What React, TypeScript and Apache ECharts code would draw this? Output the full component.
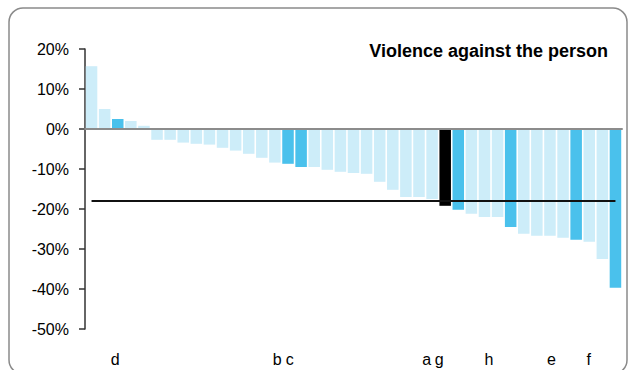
import React, { useEffect, useRef } from "react";
import * as echarts from "echarts";

const title = "Violence against the person";

const categories: string[] = [
  "", "", "d", "", "", "", "", "", "", "",
  "", "", "", "", "", "b", "c", "", "", "",
  "", "", "", "", "", "", "", "a", "g", "",
  "", "", "h", "", "", "", "", "e", "", "",
  "f",
];

const values: number[] = [
  15.7, 5.0, 2.5, 2.0, 0.8, -2.7, -2.7, -3.4, -3.7, -3.9,
  -4.7, -5.4, -6.2, -7.2, -8.4, -8.7, -9.5, -9.5, -10.2, -10.7,
  -11.0, -11.2, -13.2, -15.2, -17.0, -17.0, -17.5, -19.2, -20.2, -21.2,
  -22.0, -22.0, -24.5, -26.2, -26.7, -26.7, -27.2, -27.7, -28.2, -32.5,
  -39.7,
];

// which bars are highlighted
const highlighted: number[] = [2, 15, 16, 28, 32, 37, 40];
const focus: number[] = [27];

const referenceValue = -18;

const yTicks = { min: -50, max: 20, interval: 10 };

const LIGHT = "#CDEDF9";
const DARK = "#4AC1EC";
const BLACK = "#000000";
const FONT = "Liberation Sans, Arial, sans-serif";

export default function App() {
  const ref = useRef<HTMLDivElement>(null);

  useEffect(() => {
    if (!ref.current) return;
    const chart = echarts.init(ref.current, null, { renderer: "svg" });

    const barData = values.map((v, i) => ({
      value: v,
      itemStyle: {
        color: focus.includes(i) ? BLACK : highlighted.includes(i) ? DARK : LIGHT,
      },
    }));

    chart.setOption({
      animation: false,
      backgroundColor: "#ffffff",
      textStyle: { fontFamily: FONT },
      title: {
        text: title,
        right: 22,
        top: 42,
        padding: 0,
        textStyle: { fontFamily: FONT, fontSize: 18, fontWeight: "bold", color: "#000" },
      },
      graphic: [
        {
          type: "rect",
          shape: { x: 9, y: 8, width: 618, height: 366, r: 14 },
          style: { fill: "none", stroke: "#8a8a8a", lineWidth: 1.5 },
          silent: true,
        },
      ],
      grid: [
        { left: 85, top: 49, width: 537, height: 280, containLabel: false },
        { left: 84, top: 49, width: 511, height: 280, containLabel: false },
      ],
      xAxis: [
        {
          type: "category",
          gridIndex: 0,
          data: categories,
          z: 5,
          axisLine: { show: true, onZero: true, lineStyle: { color: "#8c8c8c", width: 2 } },
          axisTick: { show: false },
          axisLabel: { show: false },
          splitLine: { show: false },
        },
        {
          type: "category",
          gridIndex: 1,
          data: categories,
          axisLine: { show: false },
          axisTick: { show: false },
          axisLabel: {
            show: true,
            interval: 0,
            margin: 22,
            fontSize: 16,
            color: "#000",
            fontFamily: FONT,
          },
          splitLine: { show: false },
        },
      ],
      yAxis: [
        {
          type: "value",
          gridIndex: 0,
          min: yTicks.min,
          max: yTicks.max,
          interval: yTicks.interval,
          axisLine: { show: true, lineStyle: { color: "#333", width: 1.5 } },
          axisTick: { show: true, length: 6, lineStyle: { color: "#333", width: 1.5 } },
          axisLabel: {
            formatter: "{value}%",
            fontSize: 16,
            color: "#000",
            margin: 16,
            fontFamily: FONT,
          },
          splitLine: { show: false },
        },
        {
          type: "value",
          gridIndex: 1,
          show: false,
          min: yTicks.min,
          max: yTicks.max,
        },
      ],
      series: [
        {
          type: "bar",
          xAxisIndex: 0,
          yAxisIndex: 0,
          data: barData,
          barCategoryGap: "12%",
          markLine: {
            silent: true,
            symbol: "none",
            label: { show: false },
            lineStyle: { color: "#111", width: 2, type: "solid" },
            data: [
              [
                { xAxis: 0, yAxis: referenceValue },
                { xAxis: categories.length - 1, yAxis: referenceValue },
              ],
            ],
          },
        },
      ],
    });

    return () => chart.dispose();
  }, []);

  return (
    <div
      ref={ref}
      style={{ position: "absolute", left: 0, top: 0, width: 630, height: 370 }}
    />
  );
}
